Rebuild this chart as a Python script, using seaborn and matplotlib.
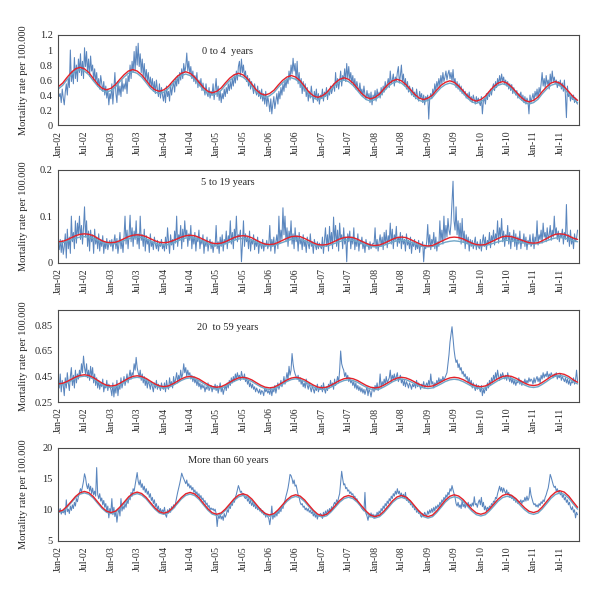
import matplotlib.pyplot as plt
import matplotlib.dates as mdates
import numpy as np
import pandas as pd
import seaborn as sns

# Weekly observed mortality rate per 100.000, from the first week of 2002
obs_0_4 = [
    0.45, 0.38, 0.42, 0.30, 0.48, 0.36, 0.27, 0.44, 0.55, 0.40, 0.62, 0.50, 1.00, 0.58, 0.72, 0.55, 0.90, 0.62, 0.80, 0.58, 0.88, 0.70, 0.95, 0.66, 0.85, 0.62,
    1.03, 0.78, 0.98, 0.70, 0.88, 0.65, 0.92, 0.72, 0.80, 0.60, 0.75, 0.58, 0.70, 0.52, 0.62, 0.48, 0.66, 0.55, 0.45, 0.58, 0.40, 0.52, 0.36, 0.48, 0.27, 0.42,
    0.35, 0.55, 0.28, 0.50, 0.70, 0.42, 0.30, 0.58, 0.40, 0.52, 0.38, 0.60, 0.45, 0.55, 0.48, 0.62, 0.42, 0.66, 0.58, 0.80, 0.62, 0.85, 0.70, 0.98, 0.72, 1.05,
    0.80, 1.09, 0.78, 0.95, 0.70, 0.88, 0.65, 0.82, 0.60, 0.74, 0.58, 0.70, 0.52, 0.64, 0.50, 0.62, 0.45, 0.58, 0.42, 0.60, 0.48, 0.38, 0.55, 0.36, 0.50, 0.40,
    0.32, 0.46, 0.30, 0.52, 0.38, 0.45, 0.32, 0.55, 0.40, 0.50, 0.58, 0.44, 0.62, 0.52, 0.66, 0.55, 0.70, 0.60, 0.75, 0.62, 0.82, 0.70, 0.78, 0.96, 0.72, 0.85,
    0.68, 0.78, 0.62, 0.72, 0.58, 0.66, 0.55, 0.70, 0.50, 0.60, 0.52, 0.62, 0.46, 0.56, 0.48, 0.40, 0.55, 0.42, 0.38, 0.50, 0.36, 0.45, 0.40, 0.55, 0.34, 0.48,
    0.62, 0.38, 0.52, 0.33, 0.45, 0.30, 0.42, 0.35, 0.48, 0.38, 0.50, 0.42, 0.55, 0.46, 0.58, 0.48, 0.62, 0.52, 0.66, 0.56, 0.72, 0.60, 0.78, 0.85, 0.65, 0.88,
    0.70, 0.80, 0.64, 0.72, 0.58, 0.66, 0.52, 0.62, 0.48, 0.58, 0.50, 0.42, 0.55, 0.45, 0.40, 0.52, 0.38, 0.46, 0.35, 0.48, 0.32, 0.42, 0.28, 0.45, 0.25, 0.38,
    0.30, 0.18, 0.35, 0.15, 0.28, 0.38, 0.22, 0.32, 0.42, 0.28, 0.45, 0.35, 0.50, 0.40, 0.55, 0.45, 0.60, 0.50, 0.62, 0.55, 0.72, 0.60, 0.80, 0.68, 0.89, 0.72,
    0.82, 0.60, 0.85, 0.55, 0.70, 0.50, 0.62, 0.42, 0.58, 0.45, 0.55, 0.38, 0.50, 0.32, 0.45, 0.36, 0.52, 0.40, 0.30, 0.45, 0.35, 0.48, 0.32, 0.42, 0.28, 0.40,
    0.36, 0.48, 0.32, 0.44, 0.38, 0.50, 0.34, 0.46, 0.40, 0.52, 0.42, 0.48, 0.55, 0.45, 0.70, 0.50, 0.62, 0.48, 0.58, 0.72, 0.52, 0.66, 0.60, 0.75, 0.58, 0.82,
    0.62, 0.78, 0.60, 0.70, 0.56, 0.66, 0.52, 0.62, 0.48, 0.58, 0.50, 0.45, 0.56, 0.42, 0.48, 0.38, 0.52, 0.40, 0.34, 0.46, 0.36, 0.42, 0.30, 0.44, 0.27, 0.40,
    0.35, 0.46, 0.32, 0.48, 0.38, 0.44, 0.36, 0.50, 0.40, 0.52, 0.44, 0.58, 0.48, 0.55, 0.62, 0.50, 0.72, 0.55, 0.60, 0.68, 0.52, 0.64, 0.58, 0.70, 0.78, 0.56,
    0.66, 0.80, 0.58, 0.68, 0.52, 0.62, 0.48, 0.58, 0.44, 0.52, 0.46, 0.40, 0.50, 0.38, 0.44, 0.35, 0.48, 0.38, 0.32, 0.45, 0.36, 0.42, 0.30, 0.40, 0.27, 0.38,
    0.34, 0.40, 0.08, 0.36, 0.42, 0.35, 0.48, 0.40, 0.55, 0.45, 0.58, 0.50, 0.62, 0.52, 0.66, 0.55, 0.70, 0.58, 0.64, 0.72, 0.60, 0.68, 0.73, 0.62, 0.70, 0.58,
    0.74, 0.56, 0.62, 0.50, 0.58, 0.48, 0.55, 0.45, 0.52, 0.42, 0.48, 0.40, 0.45, 0.36, 0.42, 0.35, 0.44, 0.32, 0.38, 0.30, 0.40, 0.34, 0.28, 0.38, 0.30, 0.36,
    0.30, 0.26, 0.38, 0.15, 0.32, 0.36, 0.28, 0.42, 0.34, 0.44, 0.38, 0.48, 0.40, 0.50, 0.55, 0.46, 0.58, 0.50, 0.62, 0.54, 0.66, 0.56, 0.68, 0.58, 0.64, 0.55,
    0.60, 0.52, 0.58, 0.48, 0.55, 0.46, 0.54, 0.42, 0.50, 0.44, 0.40, 0.46, 0.36, 0.42, 0.38, 0.44, 0.33, 0.40, 0.30, 0.38, 0.28, 0.36, 0.32, 0.15, 0.40, 0.30,
    0.36, 0.42, 0.32, 0.45, 0.38, 0.48, 0.36, 0.50, 0.42, 0.55, 0.70, 0.52, 0.62, 0.50, 0.66, 0.54, 0.60, 0.48, 0.68, 0.56, 0.72, 0.58, 0.64, 0.55, 0.60, 0.50,
    0.58, 0.52, 0.60, 0.48, 0.56, 0.45, 0.60, 0.40, 0.10, 0.52, 0.38, 0.44, 0.32, 0.40, 0.34, 0.40, 0.30, 0.36, 0.30, 0.28,
]

obs_5_19 = [
    0.040, 0.028, 0.050, 0.022, 0.048, 0.018, 0.035, 0.062, 0.010, 0.072, 0.030, 0.055, 0.020, 0.100, 0.045, 0.065, 0.030, 0.090, 0.042, 0.085, 0.060, 0.100, 0.050, 0.080, 0.040, 0.075,
    0.120, 0.055, 0.090, 0.035, 0.068, 0.025, 0.070, 0.045, 0.060, 0.020, 0.072, 0.040, 0.055, 0.030, 0.062, 0.025, 0.050, 0.035, 0.058, 0.020, 0.045, 0.030, 0.052, 0.028, 0.040, 0.048,
    0.035, 0.050, 0.025, 0.045, 0.060, 0.030, 0.052, 0.020, 0.040, 0.065, 0.030, 0.048, 0.022, 0.055, 0.100, 0.040, 0.070, 0.030, 0.060, 0.102, 0.045, 0.075, 0.035, 0.068, 0.050, 0.090,
    0.040, 0.062, 0.030, 0.100, 0.048, 0.060, 0.035, 0.072, 0.025, 0.058, 0.040, 0.050, 0.022, 0.062, 0.035, 0.045, 0.028, 0.055, 0.040, 0.030, 0.048, 0.025, 0.042, 0.035, 0.050, 0.030,
    0.040, 0.025, 0.055, 0.030, 0.075, 0.045, 0.020, 0.060, 0.038, 0.050, 0.028, 0.068, 0.042, 0.100, 0.035, 0.060, 0.050, 0.080, 0.030, 0.072, 0.045, 0.090, 0.055, 0.070, 0.035, 0.062,
    0.048, 0.080, 0.030, 0.058, 0.040, 0.065, 0.025, 0.055, 0.045, 0.070, 0.030, 0.050, 0.040, 0.060, 0.020, 0.048, 0.035, 0.055, 0.025, 0.042, 0.050, 0.030, 0.045, 0.022, 0.040, 0.035,
    0.080, 0.030, 0.045, 0.020, 0.055, 0.035, 0.060, 0.025, 0.050, 0.040, 0.068, 0.030, 0.058, 0.045, 0.090, 0.040, 0.065, 0.030, 0.072, 0.050, 0.100, 0.045, 0.060, 0.055, 0.070, 0.002,
    0.040, 0.090, 0.035, 0.062, 0.045, 0.055, 0.030, 0.068, 0.025, 0.050, 0.040, 0.060, 0.028, 0.048, 0.035, 0.055, 0.020, 0.045, 0.038, 0.030, 0.050, 0.025, 0.042, 0.035, 0.048, 0.030,
    0.040, 0.080, 0.025, 0.050, 0.035, 0.055, 0.020, 0.045, 0.060, 0.030, 0.100, 0.042, 0.070, 0.050, 0.118, 0.060, 0.100, 0.045, 0.075, 0.035, 0.068, 0.050, 0.090, 0.040, 0.062, 0.030,
    0.075, 0.045, 0.058, 0.025, 0.065, 0.040, 0.052, 0.028, 0.060, 0.035, 0.048, 0.022, 0.055, 0.040, 0.030, 0.062, 0.035, 0.045, 0.020, 0.050, 0.038, 0.028, 0.045, 0.030, 0.042, 0.035,
    0.030, 0.055, 0.020, 0.048, 0.075, 0.035, 0.060, 0.025, 0.078, 0.040, 0.065, 0.030, 0.098, 0.045, 0.080, 0.035, 0.070, 0.025, 0.085, 0.050, 0.060, 0.030, 0.075, 0.040, 0.055, 0.002,
    0.062, 0.045, 0.068, 0.030, 0.055, 0.040, 0.075, 0.028, 0.050, 0.035, 0.062, 0.025, 0.048, 0.040, 0.055, 0.030, 0.045, 0.022, 0.050, 0.035, 0.040, 0.028, 0.045, 0.030, 0.038, 0.042,
    0.040, 0.075, 0.030, 0.050, 0.025, 0.045, 0.060, 0.035, 0.055, 0.028, 0.065, 0.040, 0.070, 0.032, 0.058, 0.045, 0.085, 0.040, 0.072, 0.030, 0.060, 0.048, 0.078, 0.035, 0.055, 0.042,
    0.065, 0.030, 0.058, 0.040, 0.050, 0.025, 0.062, 0.038, 0.048, 0.030, 0.055, 0.020, 0.045, 0.035, 0.050, 0.028, 0.042, 0.030, 0.048, 0.022, 0.040, 0.035, 0.045, 0.002, 0.038, 0.030,
    0.045, 0.082, 0.035, 0.060, 0.028, 0.050, 0.040, 0.065, 0.030, 0.055, 0.025, 0.045, 0.035, 0.090, 0.045, 0.070, 0.040, 0.100, 0.050, 0.080, 0.055, 0.095, 0.070, 0.060, 0.085, 0.130,
    0.175, 0.090, 0.070, 0.120, 0.060, 0.090, 0.050, 0.085, 0.040, 0.095, 0.045, 0.068, 0.030, 0.060, 0.040, 0.055, 0.025, 0.050, 0.035, 0.048, 0.030, 0.042, 0.055, 0.028, 0.045, 0.035,
    0.030, 0.050, 0.025, 0.045, 0.060, 0.035, 0.055, 0.028, 0.048, 0.040, 0.065, 0.032, 0.058, 0.045, 0.070, 0.038, 0.062, 0.050, 0.090, 0.042, 0.075, 0.055, 0.095, 0.045, 0.068, 0.035,
    0.060, 0.050, 0.080, 0.040, 0.065, 0.030, 0.058, 0.045, 0.070, 0.035, 0.062, 0.028, 0.055, 0.040, 0.068, 0.030, 0.050, 0.042, 0.062, 0.035, 0.055, 0.028, 0.048, 0.040, 0.060, 0.035,
    0.040, 0.062, 0.030, 0.055, 0.045, 0.090, 0.038, 0.060, 0.050, 0.070, 0.042, 0.085, 0.055, 0.065, 0.045, 0.075, 0.050, 0.060, 0.080, 0.048, 0.070, 0.055, 0.100, 0.060, 0.075, 0.050,
    0.068, 0.045, 0.062, 0.055, 0.072, 0.040, 0.065, 0.050, 0.125, 0.045, 0.060, 0.035, 0.070, 0.040, 0.055, 0.030, 0.062, 0.045, 0.052, 0.070,
]

obs_20_59 = [
    0.40, 0.36, 0.47, 0.33, 0.42, 0.38, 0.30, 0.44, 0.36, 0.48, 0.40, 0.34, 0.45, 0.52, 0.38, 0.46, 0.36, 0.50, 0.40, 0.47, 0.43, 0.50, 0.45, 0.55, 0.48, 0.61,
    0.52, 0.47, 0.55, 0.44, 0.50, 0.42, 0.53, 0.45, 0.52, 0.40, 0.47, 0.38, 0.44, 0.36, 0.42, 0.35, 0.40, 0.37, 0.43, 0.33, 0.38, 0.36, 0.42, 0.34, 0.39, 0.37,
    0.35, 0.30, 0.40, 0.29, 0.37, 0.32, 0.42, 0.30, 0.38, 0.35, 0.44, 0.36, 0.40, 0.45, 0.38, 0.42, 0.47, 0.40, 0.45, 0.50, 0.43, 0.48, 0.46, 0.55, 0.50, 0.60,
    0.52, 0.48, 0.45, 0.50, 0.42, 0.47, 0.40, 0.45, 0.38, 0.43, 0.36, 0.42, 0.39, 0.35, 0.41, 0.37, 0.33, 0.40, 0.36, 0.42, 0.35, 0.39, 0.37, 0.34, 0.40, 0.36,
    0.35, 0.40, 0.33, 0.42, 0.37, 0.35, 0.44, 0.38, 0.41, 0.36, 0.45, 0.39, 0.43, 0.48, 0.40, 0.46, 0.42, 0.50, 0.44, 0.47, 0.55, 0.48, 0.52, 0.45, 0.50, 0.46,
    0.48, 0.43, 0.46, 0.41, 0.45, 0.40, 0.43, 0.38, 0.42, 0.37, 0.40, 0.35, 0.39, 0.36, 0.38, 0.33, 0.37, 0.35, 0.40, 0.34, 0.36, 0.38, 0.33, 0.37, 0.35, 0.39,
    0.34, 0.38, 0.32, 0.36, 0.40, 0.33, 0.37, 0.31, 0.35, 0.38, 0.34, 0.40, 0.36, 0.42, 0.38, 0.44, 0.40, 0.45, 0.41, 0.47, 0.43, 0.48, 0.44, 0.46, 0.42, 0.49,
    0.45, 0.43, 0.47, 0.41, 0.44, 0.39, 0.42, 0.37, 0.40, 0.36, 0.39, 0.35, 0.37, 0.33, 0.36, 0.34, 0.32, 0.35, 0.31, 0.34, 0.33, 0.30, 0.36, 0.33, 0.35, 0.32,
    0.34, 0.31, 0.36, 0.30, 0.35, 0.33, 0.38, 0.32, 0.36, 0.40, 0.35, 0.38, 0.42, 0.37, 0.40, 0.45, 0.39, 0.43, 0.48, 0.42, 0.53, 0.46, 0.50, 0.63, 0.55, 0.50,
    0.47, 0.45, 0.43, 0.46, 0.41, 0.44, 0.39, 0.42, 0.37, 0.40, 0.36, 0.43, 0.38, 0.35, 0.40, 0.36, 0.33, 0.38, 0.35, 0.32, 0.37, 0.34, 0.39, 0.33, 0.36, 0.35,
    0.38, 0.33, 0.40, 0.35, 0.32, 0.37, 0.34, 0.39, 0.36, 0.42, 0.37, 0.40, 0.35, 0.43, 0.38, 0.41, 0.45, 0.40, 0.50, 0.65, 0.55, 0.52, 0.50, 0.45, 0.48, 0.43,
    0.46, 0.41, 0.44, 0.40, 0.42, 0.38, 0.41, 0.36, 0.40, 0.35, 0.38, 0.34, 0.37, 0.33, 0.36, 0.32, 0.35, 0.31, 0.34, 0.37, 0.30, 0.35, 0.33, 0.29, 0.34, 0.36,
    0.33, 0.38, 0.35, 0.40, 0.34, 0.37, 0.47, 0.36, 0.41, 0.38, 0.43, 0.39, 0.45, 0.40, 0.42, 0.44, 0.50, 0.41, 0.46, 0.43, 0.47, 0.42, 0.45, 0.48, 0.41, 0.44,
    0.46, 0.40, 0.43, 0.38, 0.42, 0.37, 0.41, 0.39, 0.36, 0.40, 0.38, 0.35, 0.39, 0.37, 0.40, 0.36, 0.42, 0.37, 0.40, 0.38, 0.35, 0.39, 0.37, 0.41, 0.36, 0.38,
    0.40, 0.37, 0.42, 0.38, 0.47, 0.39, 0.41, 0.36, 0.40, 0.38, 0.42, 0.39, 0.44, 0.40, 0.43, 0.41, 0.45, 0.42, 0.44, 0.46, 0.48, 0.55, 0.62, 0.72, 0.78, 0.84,
    0.75, 0.66, 0.60, 0.56, 0.58, 0.52, 0.55, 0.50, 0.52, 0.47, 0.49, 0.45, 0.47, 0.43, 0.45, 0.40, 0.44, 0.38, 0.42, 0.36, 0.40, 0.37, 0.34, 0.39, 0.35, 0.38,
    0.36, 0.33, 0.38, 0.30, 0.35, 0.32, 0.37, 0.34, 0.40, 0.36, 0.42, 0.38, 0.44, 0.40, 0.46, 0.42, 0.48, 0.43, 0.50, 0.45, 0.42, 0.47, 0.44, 0.48, 0.45, 0.43,
    0.46, 0.42, 0.48, 0.44, 0.41, 0.45, 0.40, 0.43, 0.39, 0.42, 0.38, 0.41, 0.40, 0.44, 0.39, 0.42, 0.38, 0.41, 0.40, 0.43, 0.39, 0.42, 0.40, 0.44, 0.41, 0.43,
    0.42, 0.39, 0.44, 0.40, 0.43, 0.45, 0.41, 0.44, 0.40, 0.46, 0.43, 0.48, 0.44, 0.47, 0.45, 0.49, 0.44, 0.47, 0.45, 0.48, 0.46, 0.44, 0.47, 0.45, 0.48, 0.43,
    0.46, 0.44, 0.47, 0.42, 0.45, 0.43, 0.41, 0.44, 0.40, 0.43, 0.39, 0.42, 0.38, 0.41, 0.40, 0.44, 0.39, 0.42, 0.50, 0.41,
]

obs_60_plus = [
    10.5, 9.6, 10.2, 9.3, 9.8, 9.5, 10.0, 9.2, 11.6, 9.7, 10.1, 9.4, 10.6, 9.9, 10.8, 10.2, 11.2, 10.6, 11.8, 11.3, 12.2, 12.8, 13.4, 12.9, 13.8, 14.6,
    15.8, 15.2, 14.0, 13.4, 14.2, 13.0, 13.8, 12.6, 13.5, 12.4, 13.0, 12.2, 16.8, 12.5, 11.8, 12.6, 11.4, 11.9, 10.8, 11.5, 10.4, 11.0, 9.8, 10.6, 8.7, 10.2,
    9.6, 11.8, 9.2, 10.4, 8.9, 9.8, 8.0, 9.4, 10.2, 9.0, 11.8, 9.8, 10.6, 10.1, 11.0, 10.4, 11.5, 11.0, 12.2, 11.6, 12.8, 12.2, 13.4, 13.0, 14.0, 15.0,
    16.0, 14.6, 14.0, 14.8, 13.6, 14.2, 13.2, 13.8, 12.8, 13.4, 12.5, 13.0, 12.0, 12.6, 11.5, 12.0, 11.0, 11.6, 10.5, 11.0, 10.0, 10.6, 9.6, 10.2, 9.5, 10.0,
    9.6, 10.4, 9.2, 8.8, 10.0, 9.5, 10.2, 9.6, 10.5, 10.0, 10.8, 10.3, 11.2, 12.0, 12.8, 13.5, 14.2, 15.0, 15.9, 15.4, 15.0, 14.6, 14.2, 14.8, 13.8, 14.2,
    13.5, 13.9, 13.2, 13.6, 12.8, 13.2, 12.5, 12.9, 12.2, 12.6, 11.9, 12.3, 11.6, 11.9, 11.2, 11.5, 10.8, 11.1, 10.4, 10.7, 10.0, 10.3, 10.0, 10.2, 9.8, 10.1,
    9.4, 7.3, 9.0, 8.6, 9.2, 8.5, 9.0, 8.3, 9.4, 8.8, 9.2, 10.0, 9.6, 10.6, 10.2, 11.0, 10.7, 11.5, 11.2, 12.0, 12.5, 13.2, 13.9, 13.4, 12.8, 13.0,
    12.4, 12.6, 12.0, 11.8, 12.2, 11.4, 11.8, 11.0, 11.5, 10.7, 11.2, 10.5, 11.0, 10.2, 10.6, 10.0, 10.4, 9.8, 10.2, 9.5, 9.9, 9.2, 9.6, 8.8, 9.3, 8.9,
    8.6, 7.6, 8.8, 10.6, 8.5, 9.2, 8.8, 9.6, 9.0, 9.8, 9.4, 10.2, 9.7, 10.6, 10.2, 11.0, 11.5, 12.2, 12.8, 13.5, 14.5, 15.7, 15.5, 15.0, 14.2, 14.8,
    13.8, 14.0, 13.2, 12.4, 12.0, 11.2, 10.8, 11.0, 10.4, 10.6, 10.0, 10.3, 9.8, 10.2, 9.6, 9.9, 9.4, 9.7, 9.0, 9.5, 8.8, 9.3, 8.5, 9.2, 9.0, 9.4,
    9.2, 8.6, 9.6, 9.0, 9.8, 9.3, 10.0, 9.5, 10.2, 9.7, 10.5, 10.0, 10.8, 11.2, 10.8, 11.6, 11.2, 12.0, 12.6, 14.5, 16.2, 15.0, 14.0, 14.2, 13.4, 13.6,
    13.0, 13.2, 12.6, 12.9, 12.4, 12.6, 12.0, 12.2, 11.6, 11.8, 11.2, 11.0, 10.8, 10.5, 10.2, 10.0, 9.8, 12.8, 9.4, 9.0, 8.3, 9.2, 8.8, 9.5, 8.9, 9.3,
    8.6, 9.2, 8.8, 9.6, 9.1, 9.8, 9.4, 10.2, 9.8, 10.6, 10.2, 11.0, 10.6, 11.4, 11.0, 11.8, 11.4, 12.2, 11.8, 12.6, 12.2, 13.0, 12.5, 13.4, 12.6, 13.0,
    12.2, 12.7, 12.0, 12.5, 11.8, 12.8, 11.5, 12.0, 11.2, 11.6, 10.8, 11.2, 10.4, 10.8, 10.0, 10.4, 9.6, 10.0, 9.4, 9.8, 9.0, 8.8, 9.4, 9.0, 9.6, 9.2,
    9.0, 9.8, 9.3, 10.0, 9.5, 10.2, 9.6, 10.4, 9.8, 10.6, 10.2, 10.8, 10.4, 11.2, 10.8, 11.6, 11.2, 12.0, 11.6, 12.4, 12.0, 12.8, 12.4, 13.4, 13.0, 13.9,
    13.2, 12.6, 12.0, 11.0, 10.6, 11.2, 10.4, 10.8, 10.2, 11.5, 10.5, 10.9, 10.3, 11.0, 10.6, 11.2, 10.4, 10.9, 10.5, 11.1, 10.6, 12.1, 10.8, 11.0, 10.4, 11.2,
    11.6, 10.8, 12.0, 10.5, 11.2, 10.0, 10.6, 9.8, 10.4, 10.0, 10.6, 10.3, 11.0, 10.7, 11.4, 11.2, 12.0, 11.8, 12.6, 13.2, 13.8, 13.0, 13.6, 12.8, 13.5, 13.0,
    12.6, 13.2, 12.4, 12.8, 12.0, 12.4, 11.8, 12.2, 11.5, 11.9, 11.2, 11.6, 11.0, 11.4, 11.2, 11.6, 11.0, 11.5, 11.3, 12.0, 11.4, 12.2, 11.5, 11.9, 13.6, 12.4,
    11.8, 11.2, 10.8, 11.0, 10.5, 10.8, 10.4, 11.0, 10.7, 11.3, 11.0, 11.6, 11.3, 12.0, 12.4, 13.0, 13.5, 14.5, 15.7, 15.2, 14.6, 14.0, 13.6, 13.8, 13.0, 13.4,
    12.8, 13.1, 12.4, 12.8, 12.0, 12.4, 11.6, 12.0, 11.2, 11.6, 10.8, 11.2, 10.4, 10.0, 10.5, 9.6, 10.0, 8.7, 9.6, 9.2,
]

# Monthly values of the two fitted seasonal curves (red and light blue)
red_0_4 = [
    0.51, 0.56, 0.63, 0.70, 0.75, 0.77, 0.75, 0.70, 0.62, 0.545, 0.49, 0.47,
    0.49, 0.54, 0.605, 0.67, 0.72, 0.74, 0.72, 0.67, 0.595, 0.52, 0.47, 0.45,
    0.47, 0.515, 0.58, 0.645, 0.69, 0.71, 0.69, 0.64, 0.57, 0.50, 0.45, 0.43,
    0.45, 0.495, 0.56, 0.625, 0.67, 0.69, 0.67, 0.62, 0.545, 0.47, 0.42, 0.40,
    0.42, 0.465, 0.53, 0.595, 0.64, 0.66, 0.64, 0.59, 0.515, 0.44, 0.39, 0.37,
    0.39, 0.435, 0.50, 0.565, 0.61, 0.63, 0.61, 0.56, 0.49, 0.42, 0.37, 0.35,
    0.37, 0.415, 0.48, 0.545, 0.59, 0.61, 0.59, 0.54, 0.475, 0.41, 0.36, 0.34,
    0.36, 0.40, 0.465, 0.53, 0.57, 0.59, 0.57, 0.52, 0.455, 0.39, 0.34, 0.32,
    0.34, 0.385, 0.45, 0.515, 0.56, 0.58, 0.56, 0.51, 0.445, 0.38, 0.33, 0.31,
    0.33, 0.375, 0.445, 0.51, 0.56, 0.58, 0.56, 0.51, 0.445, 0.38, 0.33,
]
light_0_4 = [
    0.48, 0.53, 0.60, 0.67, 0.72, 0.74, 0.72, 0.67, 0.59, 0.52, 0.46, 0.44,
    0.46, 0.51, 0.575, 0.64, 0.69, 0.71, 0.69, 0.64, 0.565, 0.49, 0.44, 0.42,
    0.44, 0.485, 0.55, 0.615, 0.66, 0.68, 0.66, 0.61, 0.54, 0.47, 0.42, 0.40,
    0.42, 0.465, 0.53, 0.595, 0.64, 0.66, 0.64, 0.59, 0.515, 0.44, 0.39, 0.37,
    0.39, 0.435, 0.50, 0.565, 0.61, 0.63, 0.61, 0.56, 0.485, 0.41, 0.36, 0.34,
    0.36, 0.405, 0.47, 0.535, 0.58, 0.60, 0.58, 0.53, 0.46, 0.39, 0.34, 0.32,
    0.34, 0.385, 0.45, 0.515, 0.56, 0.58, 0.56, 0.51, 0.445, 0.38, 0.33, 0.31,
    0.33, 0.37, 0.435, 0.50, 0.54, 0.56, 0.54, 0.49, 0.425, 0.36, 0.31, 0.29,
    0.31, 0.355, 0.42, 0.485, 0.53, 0.55, 0.53, 0.48, 0.415, 0.35, 0.30, 0.28,
    0.30, 0.345, 0.415, 0.48, 0.53, 0.55, 0.53, 0.48, 0.415, 0.35, 0.30,
]

red_5_19 = [
    0.045, 0.046, 0.049, 0.0535, 0.058, 0.061, 0.062, 0.061, 0.058, 0.0525, 0.047, 0.044,
    0.043, 0.044, 0.047, 0.0515, 0.056, 0.059, 0.060, 0.059, 0.056, 0.0515, 0.047, 0.044,
    0.043, 0.044, 0.047, 0.051, 0.055, 0.058, 0.059, 0.058, 0.0545, 0.050, 0.0455, 0.042,
    0.041, 0.042, 0.045, 0.0495, 0.054, 0.057, 0.058, 0.057, 0.0535, 0.0485, 0.0435, 0.040,
    0.039, 0.040, 0.0435, 0.048, 0.0525, 0.056, 0.057, 0.056, 0.052, 0.0475, 0.0425, 0.039,
    0.038, 0.039, 0.042, 0.0465, 0.051, 0.054, 0.055, 0.054, 0.0505, 0.046, 0.0415, 0.038,
    0.037, 0.038, 0.0415, 0.046, 0.0505, 0.054, 0.055, 0.054, 0.050, 0.0455, 0.041, 0.037,
    0.036, 0.037, 0.041, 0.0455, 0.050, 0.054, 0.055, 0.054, 0.051, 0.0465, 0.042, 0.039,
    0.038, 0.039, 0.043, 0.0475, 0.052, 0.056, 0.057, 0.056, 0.053, 0.0495, 0.046, 0.043,
    0.042, 0.043, 0.047, 0.052, 0.057, 0.061, 0.062, 0.061, 0.0575, 0.053, 0.050,
]
light_5_19 = [
    0.042, 0.043, 0.0455, 0.049, 0.0525, 0.055, 0.056, 0.055, 0.052, 0.048, 0.044, 0.041,
    0.040, 0.041, 0.044, 0.0475, 0.051, 0.054, 0.055, 0.054, 0.051, 0.0465, 0.042, 0.039,
    0.038, 0.039, 0.042, 0.046, 0.050, 0.053, 0.054, 0.053, 0.0495, 0.0455, 0.041, 0.038,
    0.037, 0.038, 0.041, 0.0445, 0.048, 0.051, 0.052, 0.051, 0.048, 0.044, 0.040, 0.037,
    0.036, 0.037, 0.040, 0.0435, 0.047, 0.050, 0.051, 0.050, 0.047, 0.043, 0.039, 0.036,
    0.035, 0.036, 0.0385, 0.042, 0.0455, 0.048, 0.049, 0.048, 0.045, 0.0415, 0.038, 0.035,
    0.034, 0.035, 0.0375, 0.041, 0.0445, 0.047, 0.048, 0.047, 0.0445, 0.041, 0.0375, 0.035,
    0.034, 0.035, 0.037, 0.0405, 0.044, 0.046, 0.047, 0.046, 0.044, 0.0415, 0.0385, 0.0365,
    0.036, 0.037, 0.039, 0.042, 0.045, 0.047, 0.048, 0.0475, 0.046, 0.044, 0.042, 0.0405,
    0.040, 0.041, 0.0435, 0.047, 0.0505, 0.053, 0.054, 0.053, 0.0505, 0.047, 0.045,
]

red_20_59 = [
    0.392, 0.397, 0.410, 0.428, 0.446, 0.459, 0.464, 0.458, 0.442, 0.420, 0.398, 0.382,
    0.376, 0.381, 0.396, 0.416, 0.436, 0.451, 0.456, 0.450, 0.435, 0.4135, 0.392, 0.377,
    0.371, 0.376, 0.391, 0.411, 0.431, 0.446, 0.451, 0.445, 0.430, 0.4085, 0.387, 0.372,
    0.366, 0.371, 0.3855, 0.405, 0.4245, 0.439, 0.444, 0.438, 0.4235, 0.4025, 0.382, 0.367,
    0.361, 0.3665, 0.382, 0.4025, 0.423, 0.438, 0.444, 0.438, 0.4235, 0.403, 0.3825, 0.3675,
    0.362, 0.367, 0.381, 0.400, 0.419, 0.433, 0.438, 0.433, 0.419, 0.3995, 0.380, 0.366,
    0.361, 0.3665, 0.382, 0.4025, 0.423, 0.438, 0.444, 0.439, 0.4255, 0.4075, 0.389, 0.376,
    0.371, 0.376, 0.389, 0.4075, 0.426, 0.439, 0.444, 0.439, 0.4255, 0.407, 0.3885, 0.375,
    0.370, 0.376, 0.3915, 0.413, 0.4345, 0.450, 0.456, 0.451, 0.4365, 0.4175, 0.398, 0.384,
    0.379, 0.385, 0.403, 0.4265, 0.450, 0.468, 0.474, 0.467, 0.450, 0.425, 0.405,
]
light_20_59 = [
    0.382, 0.387, 0.399, 0.417, 0.435, 0.448, 0.453, 0.447, 0.431, 0.409, 0.386, 0.370,
    0.364, 0.369, 0.384, 0.404, 0.424, 0.439, 0.444, 0.438, 0.423, 0.401, 0.380, 0.365,
    0.359, 0.364, 0.379, 0.399, 0.419, 0.434, 0.439, 0.433, 0.418, 0.396, 0.375, 0.360,
    0.354, 0.359, 0.373, 0.393, 0.412, 0.427, 0.432, 0.426, 0.411, 0.390, 0.370, 0.355,
    0.349, 0.354, 0.370, 0.390, 0.411, 0.426, 0.432, 0.426, 0.411, 0.390, 0.369, 0.354,
    0.348, 0.353, 0.367, 0.386, 0.405, 0.419, 0.424, 0.419, 0.405, 0.385, 0.366, 0.352,
    0.347, 0.352, 0.368, 0.388, 0.409, 0.424, 0.430, 0.425, 0.411, 0.393, 0.375, 0.361,
    0.356, 0.361, 0.374, 0.392, 0.411, 0.424, 0.429, 0.424, 0.410, 0.392, 0.373, 0.360,
    0.355, 0.361, 0.376, 0.398, 0.419, 0.435, 0.441, 0.436, 0.421, 0.402, 0.383, 0.369,
    0.364, 0.370, 0.388, 0.411, 0.435, 0.453, 0.459, 0.452, 0.435, 0.410, 0.392,
]

red_60_plus = [
    9.70, 9.92, 10.52, 11.33, 12.15, 12.74, 12.96, 12.74, 12.11, 11.26, 10.40, 9.78,
    9.55, 9.77, 10.38, 11.20, 12.03, 12.63, 12.85, 12.62, 12.00, 11.15, 10.30, 9.68,
    9.45, 9.67, 10.29, 11.13, 11.96, 12.58, 12.80, 12.56, 11.92, 11.04, 10.16, 9.52,
    9.28, 9.50, 10.10, 10.93, 11.76, 12.36, 12.58, 12.35, 11.73, 10.88, 10.02, 9.40,
    9.17, 9.39, 9.98, 10.80, 11.61, 12.20, 12.42, 12.20, 11.58, 10.74, 9.90, 9.28,
    9.06, 9.28, 9.87, 10.68, 11.49, 12.08, 12.30, 12.07, 11.45, 10.60, 9.75, 9.13,
    8.90, 9.13, 9.75, 10.60, 11.45, 12.07, 12.30, 12.07, 11.45, 10.60, 9.75, 9.13,
    8.90, 9.14, 9.78, 10.66, 11.54, 12.18, 12.42, 12.21, 11.64, 10.85, 10.07, 9.49,
    9.28, 9.50, 10.09, 10.91, 11.72, 12.31, 12.53, 12.33, 11.79, 11.04, 10.30, 9.75,
    9.55, 9.79, 10.43, 11.31, 12.19, 12.83, 13.07, 12.85, 12.20, 11.30, 10.40,
]
light_60_plus = [
    9.55, 9.76, 10.35, 11.15, 11.95, 12.52, 12.72, 12.50, 11.88, 11.04, 10.20, 9.60,
    9.38, 9.59, 10.19, 11.00, 11.81, 12.39, 12.60, 12.37, 11.76, 10.92, 10.09, 9.48,
    9.27, 9.48, 10.08, 10.90, 11.72, 12.32, 12.54, 12.30, 11.67, 10.80, 9.93, 9.30,
    9.08, 9.29, 9.88, 10.69, 11.50, 12.09, 12.31, 12.08, 11.47, 10.63, 9.79, 9.18,
    8.96, 9.17, 9.75, 10.55, 11.35, 11.93, 12.15, 11.93, 11.32, 10.49, 9.66, 9.05,
    8.83, 9.04, 9.62, 10.42, 11.22, 11.80, 12.02, 11.80, 11.19, 10.36, 9.52, 8.91,
    8.67, 8.90, 9.50, 10.33, 11.17, 11.78, 12.00, 11.78, 11.17, 10.33, 9.50, 8.90,
    8.66, 8.89, 9.52, 10.38, 11.24, 11.87, 12.10, 11.90, 11.33, 10.55, 9.78, 9.21,
    9.00, 9.21, 9.79, 10.59, 11.39, 11.97, 12.18, 11.99, 11.46, 10.72, 9.99, 9.46,
    9.26, 9.49, 10.12, 10.98, 11.84, 12.47, 12.70, 12.49, 11.86, 10.98, 10.10,
]

group_titles = ["0 to 4  years", "5 to 19 years", "20  to 59 years", "More than 60 years"]
y_ticks = [
    [0, 0.2, 0.4, 0.6, 0.8, 1.0, 1.2],
    [0, 0.1, 0.2],
    [0.25, 0.45, 0.65, 0.85],
    [5, 10, 15, 20],
]
y_tick_labels = [
    ["0", "0.2", "0.4", "0.6", "0.8", "1", "1.2"],
    ["0", "0.1", "0.2"],
    ["0.25", "0.45", "0.65", "0.85"],
    ["5", "10", "15", "20"],
]
y_limits = [(0, 1.2), (0, 0.2), (0.25, 0.97), (5, 20)]

observed = [obs_0_4, obs_5_19, obs_20_59, obs_60_plus]
fit_red = [red_0_4, red_5_19, red_20_59, red_60_plus]
fit_light = [light_0_4, light_5_19, light_20_59, light_60_plus]

sns.set_theme(style="white")
plt.rcParams["font.family"] = ["Liberation Serif", "DejaVu Serif"]

# axes boxes in figure fractions: left, bottom, width, height
boxes = [
    (0.097, 0.789, 0.868, 0.152),
    (0.097, 0.557, 0.868, 0.157),
    (0.097, 0.322, 0.868, 0.155),
    (0.097, 0.088, 0.868, 0.157),
]
title_y = [0.82, 0.86, 0.815, 0.86]

fig = plt.figure(figsize=(6, 5.93), dpi=100)

for i in range(4):
    ax = fig.add_axes(boxes[i])
    weeks = pd.date_range("2002-01-01", periods=len(observed[i]), freq="7D")
    months = pd.date_range("2002-01-01", periods=len(fit_red[i]), freq="MS")

    sns.lineplot(x=weeks, y=observed[i], ax=ax, color="#5a86be", linewidth=0.75)
    sns.lineplot(x=months, y=fit_light[i], ax=ax, color="#6fa6c8", linewidth=1.0)
    sns.lineplot(x=months, y=fit_red[i], ax=ax, color="#e4222a", linewidth=1.0)

    ax.set_xlim(weeks[0], weeks[-1] + pd.Timedelta(days=10))
    ax.set_ylim(*y_limits[i])
    ax.set_yticks(y_ticks[i])
    ax.set_yticklabels(y_tick_labels[i])
    ax.xaxis.set_major_locator(mdates.MonthLocator(bymonth=[1, 7]))
    ax.xaxis.set_major_formatter(mdates.DateFormatter("%b-%y"))
    ax.tick_params(axis="x", labelrotation=90, labelsize=7, length=0, pad=4)
    ax.tick_params(axis="y", labelsize=7.5, length=0, pad=4)

    ax.set_ylabel("Mortality rate per 100.000", fontsize=7.5)
    ax.yaxis.set_label_coords(-0.058, 0.5)
    ax.set_xlabel("")
    ax.text(0.326, title_y[i], group_titles[i], transform=ax.transAxes,
            fontsize=7.5, ha="center", va="center")

    for spine in ax.spines.values():
        spine.set_color("#4a4a4a")
        spine.set_linewidth(0.8)

plt.savefig("out.png", dpi=100)
